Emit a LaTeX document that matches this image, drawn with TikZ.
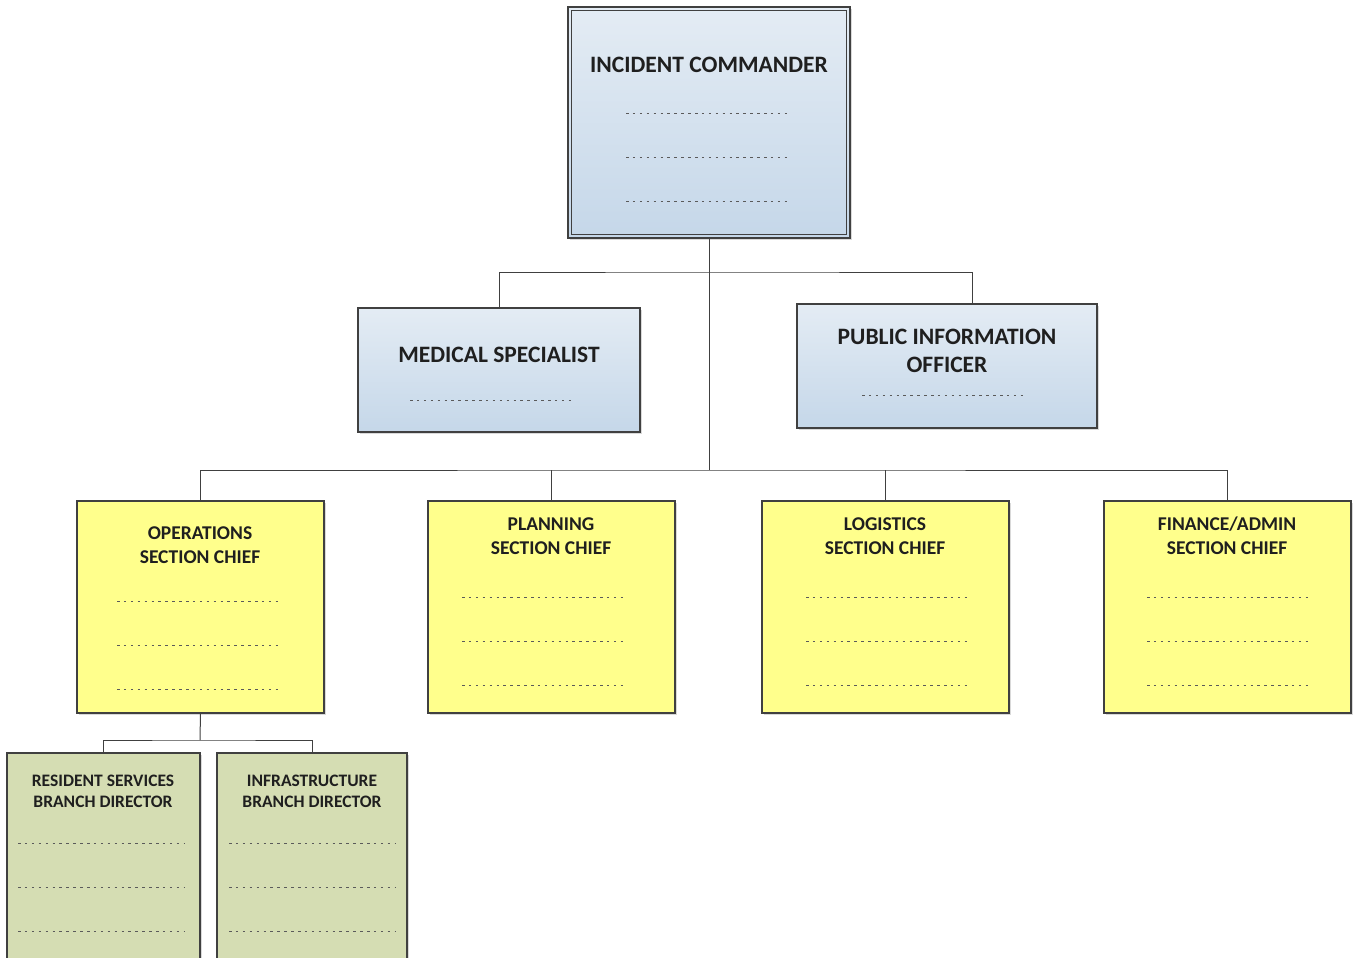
\documentclass[tikz,border=0pt]{standalone}
\usepackage{fontspec}
\setmainfont{Carlito}
\usetikzlibrary{positioning, shadows}
\definecolor{lineGray}{HTML}{404040}
\definecolor{blueTop}{HTML}{E4ECF4}
\definecolor{blueBot}{HTML}{C5D7E9}
\definecolor{secYellow}{HTML}{FFFF8C}
\definecolor{brGreen}{HTML}{D5DDB3}
\definecolor{dotGray}{HTML}{5A5A5A}

\begin{document}
\begin{tikzpicture}[x=1pt, y=-1pt,
    box/.style={draw=lineGray, line width=1.4pt, anchor=north west, inner sep=0pt, outer sep=0pt,
      drop shadow={shadow xshift=2pt, shadow yshift=-2pt, opacity=0.3, fill=gray}},
    cmdbox/.style={box, top color=blueTop, bottom color=blueBot},
    secbox/.style={box, fill=secYellow, minimum width=247pt, minimum height=212pt},
    brbox/.style={box, fill=brGreen, minimum height=230pt},
    ttl/.style={font=\bfseries\fontsize{23.5}{28}\selectfont, align=center, text=black!88},
    secttl/.style={font=\bfseries\fontsize{19.5}{24}\selectfont, align=center, text=black!88},
    brttl/.style={font=\bfseries\fontsize{17.5}{21}\selectfont, align=center, text=black!88},
    dots/.style={draw=dotGray, line width=0.9pt, dash pattern=on 2.5pt off 4.4pt},
    conn/.style={draw=lineGray, line width=1pt},
  ]
    \useasboundingbox (0,0) rectangle (1355,958);

    % command staff
    \node[cmdbox, minimum width=282pt, minimum height=231pt] (ic) at (568,7) {};
    \draw[lineGray, line width=1.1pt] ([shift={(3.5pt,-3.5pt)}]ic.north west) rectangle ([shift={(-3.5pt,3.5pt)}]ic.south east);
    \node[cmdbox, minimum width=282pt, minimum height=124pt] (med) at (358,308) {};
    \node[cmdbox, minimum width=300pt, minimum height=124pt] (pio) at (797,304) {};

    \node[ttl] (ic-t) at (709,65) {INCIDENT COMMANDER};
    \node[ttl] (med-t) at (499,355) {MEDICAL SPECIALIST};
    \node[ttl] (pio-t) at (947,351) {PUBLIC INFORMATION\\OFFICER};

    % sections
    \node[secbox] (ops)  at (77,501)   {};
    \node[secbox] (plan) at (428,501)  {};
    \node[secbox] (log)  at (762,501)  {};
    \node[secbox] (fin)  at (1104,501) {};

    \node[secttl] (ops-t)  at (200,545)  {OPERATIONS\\SECTION CHIEF};
    \node[secttl] (plan-t) at (551,536)  {PLANNING\\SECTION CHIEF};
    \node[secttl] (log-t)  at (885,536)  {LOGISTICS\\SECTION CHIEF};
    \node[secttl] (fin-t)  at (1227,536) {FINANCE/ADMIN\\SECTION CHIEF};

    % branches
    \node[brbox, minimum width=193pt] (rs)    at (7,753)   {};
    \node[brbox, minimum width=190pt] (infra) at (217,753) {};

    \node[brttl] (rs-t)    at (103,791) {RESIDENT SERVICES\\BRANCH DIRECTOR};
    \node[brttl] (infra-t) at (312,791) {INFRASTRUCTURE\\BRANCH DIRECTOR};

    % blank lines
    \foreach \y in {113,157,201} \draw[dots] (626,\y) -- ++(165,0);
    \draw[dots] (410,400) -- ++(165,0);
    \draw[dots] (862,395) -- ++(165,0);
    \foreach \y in {601,645,689} \draw[dots] (117,\y) -- ++(165,0);
    \foreach \x in {462,806,1147} {
      \foreach \y in {597,641,685} \draw[dots] (\x,\y) -- ++(165,0);
    }
    \foreach \x in {18,229} {
      \foreach \y in {843,887,931} \draw[dots] (\x,\y) -- ++(166,0);
    }

    % connectors
    \coordinate (j1) at (709,272);
    \coordinate (j2) at (709,470);
    \coordinate (j3) at (200,740);
    \draw[conn] (ic.south) -- (j2);
    \draw[conn] (med.north) |- (j1) -| ([xshift=25pt]pio.north);
    \draw[conn] (ops.north) |- (j2) -| (fin.north);
    \draw[conn] (plan.north) -- (plan.north |- j2);
    \draw[conn] (log.north) -- (log.north |- j2);
    \draw[conn] (ops.south) -- (j3);
    \draw[conn] (rs.north) |- (j3) -| (infra.north);
  \end{tikzpicture}
\end{document}
